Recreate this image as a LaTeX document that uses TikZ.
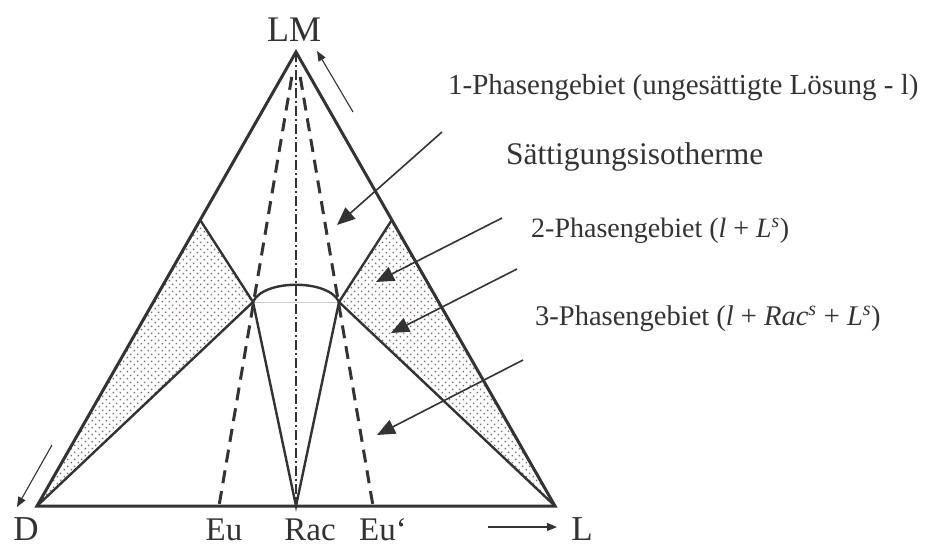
\documentclass[tikz,border=0pt]{standalone}
\usepackage{fontspec}
\setmainfont{Liberation Serif}
\usetikzlibrary{arrows.meta,patterns.meta,calc}
\definecolor{ink}{RGB}{51,51,51}
\definecolor{dotc}{RGB}{125,110,110}
\tikzdeclarepattern{
  name=shadedots,
  type=uncolored,
  bounding box={(0pt,0pt) and (7pt,7pt)},
  tile size={(7pt,7pt)},
  code={
    \fill (0.8pt,0.8pt) rectangle (2.5pt,2.5pt);
    \fill (4.3pt,4.3pt) rectangle (6pt,6pt);
  }
}
\tikzset{
  edge/.style={ink, line width=3pt, line join=miter},
  inner/.style={ink, line width=2.4pt},
  dashline/.style={ink, line width=3pt, dash pattern=on 13pt off 8pt},
  axisline/.style={ink, line width=1.2pt, dash pattern=on 10pt off 3pt on 2pt off 3pt},
  shade/.style={pattern=shadedots, pattern color=dotc},
  bigarrow/.style={ink, line width=1.6pt, -{Triangle[length=18pt,width=15pt]}},
  smallarrow/.style={ink, line width=1.1pt, -{Triangle[length=10pt,width=8pt]}},
  vlabel/.style={ink, font=\fontsize{35}{40}\selectfont, anchor=base, inner sep=0pt, text depth=0pt},
  blabel/.style={ink, font=\fontsize{33}{38}\selectfont, anchor=base, inner sep=0pt, text depth=0pt},
  rlabel/.style={ink, anchor=base west, inner sep=0pt}
}
\begin{document}
\begin{tikzpicture}[x=1pt,y=-1pt]
\useasboundingbox (0,0) rectangle (931,548);
% corner points
\coordinate (LM) at (296,52);
\coordinate (D) at (37,506);
\coordinate (L) at (555,506);
\coordinate (Rac) at (296,506);
\coordinate (Eu) at (219,506);
\coordinate (Eup) at (373,506);
\coordinate (P1) at ($(LM)!0.37!(D)$);
\coordinate (P2) at ($(LM)!0.37!(L)$);
\coordinate (X1) at (253,302);
\coordinate (X2) at (339,302);
% shaded regions
\fill[shade] (D) -- (P1) -- (X1) -- cycle;
\fill[shade] (L) -- (P2) -- (X2) -- cycle;
% faint line
\draw[gray!40, line width=0.8pt] (X1) -- (X2);
% center axis
\draw[axisline] (LM) -- (Rac);
% dashed lines
\draw[dashline] ($(LM)!0.055!(Eu)$) -- (Eu);
\draw[dashline] ($(LM)!0.055!(Eup)$) -- (Eup);
% inner solid lines
\draw[inner] (P1) -- (X1) -- (D);
\draw[inner] (P2) -- (X2) -- (L);
\draw[inner] (X1) -- (Rac) -- (X2);
\draw[inner] (X1) .. controls (263,279) and (329,279) .. (X2);
% triangle
\draw[edge] (LM) -- (D) -- (L) -- cycle;
% labels
\node[vlabel, font=\fontsize{36}{40}\selectfont] (tLM) at (294,42) {LM};
\node[vlabel] (tD) at (26,540) {D};
\node[vlabel] (tL) at (582,540) {L};
\node[blabel] (tEu) at (224,540) {Eu};
\node[blabel] (tRac) at (310,540) {Rac};
\node[blabel] (tEup) at (383,540) {Eu‘};
\node[rlabel, font=\fontsize{29}{34}\selectfont] (r1) at (448,95) {1-Phasengebiet (ungesättigte Lösung - l)};
\node[rlabel, font=\fontsize{31.5}{36}\selectfont] (r2) at (506,165) {Sättigungsisotherme};
\node[rlabel, font=\fontsize{28}{34}\selectfont] (r3) at (531,237) {2-Phasengebiet (\textit{l} + \textit{L}\textsuperscript{\textit{s}})};
\node[rlabel, font=\fontsize{28.5}{34}\selectfont] (r4) at (535,325) {3-Phasengebiet (\textit{l} + \textit{Rac}\textsuperscript{\textit{s}} + \textit{L}\textsuperscript{\textit{s}})};
% pointer arrows
\coordinate (a1s) at (442,132); \coordinate (a1e) at (337,225);
\coordinate (a2s) at (502,218); \coordinate (a2e) at (376,282);
\coordinate (a3s) at (517,269); \coordinate (a3e) at (391,333);
\coordinate (a4s) at (523,360); \coordinate (a4e) at (377,435);
\draw[bigarrow] (a1s) -- (a1e);
\draw[bigarrow] (a2s) -- (a2e);
\draw[bigarrow] (a3s) -- (a3e);
\draw[bigarrow] (a4s) -- (a4e);
% direction arrows
\coordinate (b1s) at (353,112); \coordinate (b1e) at (317,51);
\coordinate (b2s) at (52,445); \coordinate (b2e) at (17,507);
\coordinate (b3s) at (488,527); \coordinate (b3e) at (557,527);
\draw[smallarrow] (b1s) -- (b1e);
\draw[smallarrow] (b2s) -- (b2e);
\draw[smallarrow] (b3s) -- (b3e);
\end{tikzpicture}
\end{document}
